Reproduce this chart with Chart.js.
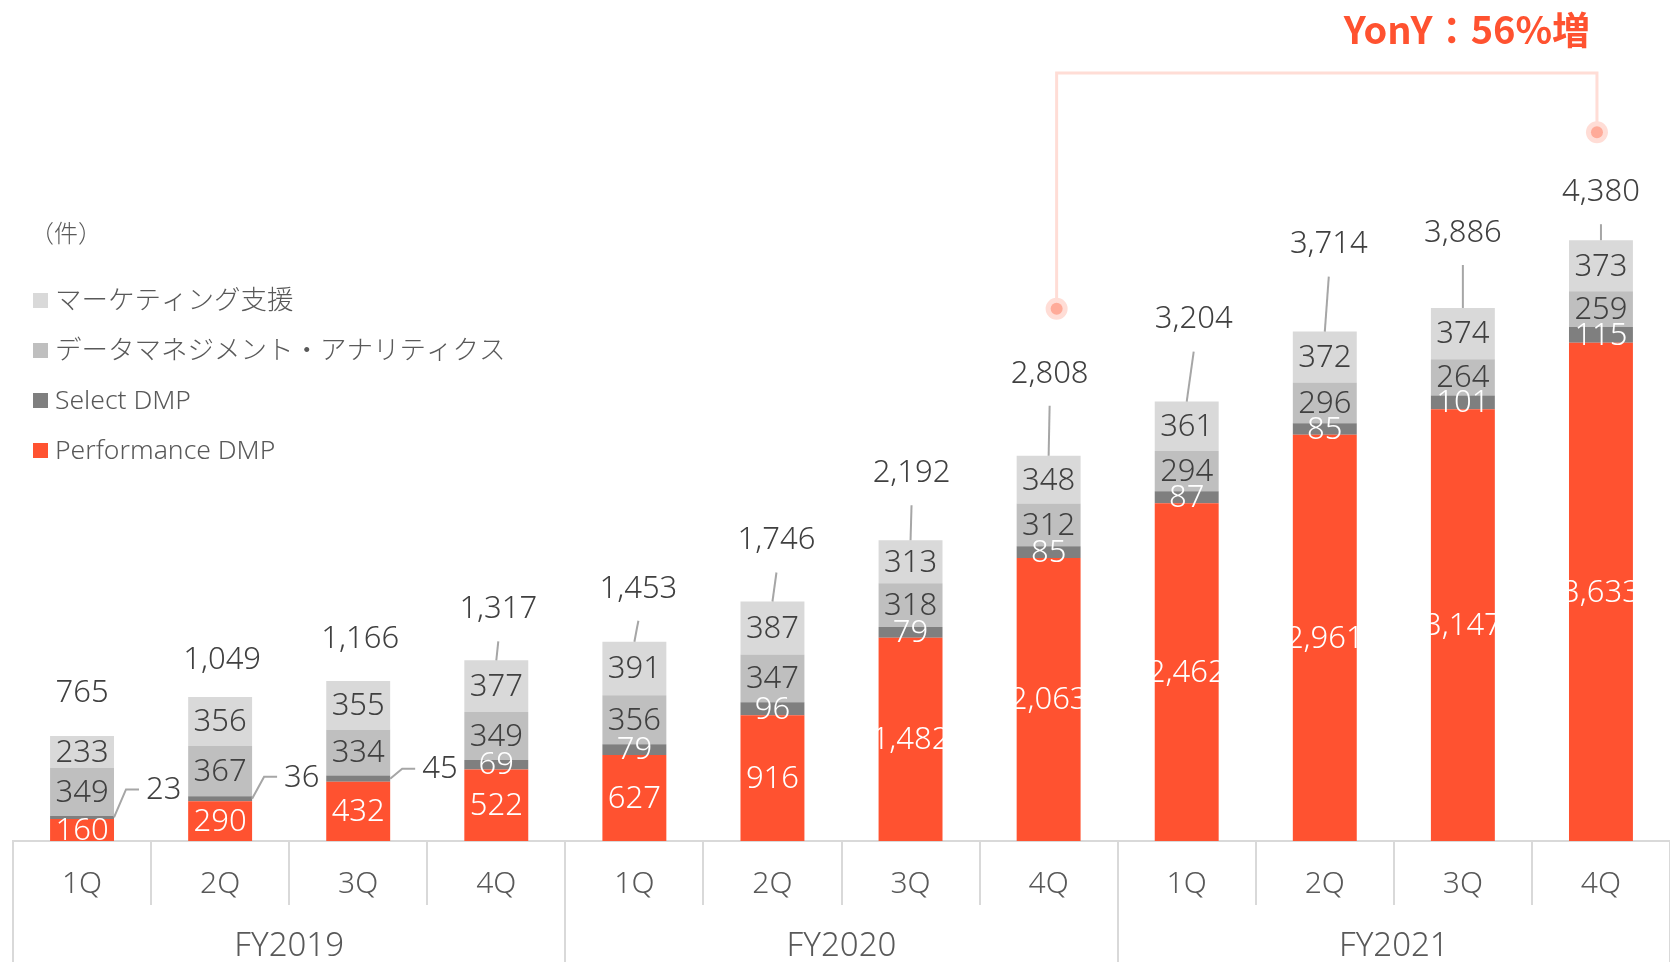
<!DOCTYPE html>
<html lang="ja">
<head>
<meta charset="utf-8">
<title>DMP 件数推移</title>
<script src="https://cdn.jsdelivr.net/npm/chart.js@4.4.1/dist/chart.umd.min.js"></script>
<style>
  html, body { margin: 0; padding: 0; background: #fff; overflow: hidden; }
  #wrap { width: 1670px; height: 962px; position: relative; }
</style>
</head>
<body>
<div id="wrap"><canvas id="chart"></canvas></div>
<script>
// ── data (件) ──
const quarters = ['1Q', '2Q', '3Q', '4Q', '1Q', '2Q', '3Q', '4Q', '1Q', '2Q', '3Q', '4Q'];
const fiscalYears = ['FY2019', 'FY2020', 'FY2021'];
const performanceDmp = [160, 290, 432, 522, 627, 916, 1482, 2063, 2462, 2961, 3147, 3633];
const selectDmp = [23, 36, 45, 69, 79, 96, 79, 85, 87, 85, 101, 115];
const dataManagement = [349, 367, 334, 349, 356, 347, 318, 312, 294, 296, 264, 259];
const marketingSupport = [233, 356, 355, 377, 391, 387, 313, 348, 361, 372, 374, 373];
const totals = [765, 1049, 1166, 1317, 1453, 1746, 2192, 2808, 3204, 3714, 3886, 4380];
const unitLabel = '（件）';
const yoyText = 'YonY：56%増';

// ── label placement (px, style only) ──
const totalLift = [43, 37, 42, 51, 53, 61, 67, 82, 82, 87, 75, 48];
const totalShift = [0, 2, 2, 2, 4, 4, 1, 1, 7, 4, 0, 0];
const calloutRise = [28, 22, 10];   // small Select DMP values pulled outside

const FONT = "'Noto Sans', 'Noto Sans CJK JP', sans-serif";
const TEXT = '#404040';
const AXIS_TEXT = '#595959';
const ORANGE = '#FF5230';
const LINE = '#D9D9D9';

const fmt = (v) => v.toLocaleString('en-US');

// values inside each stacked segment + totals on top
const valueLabels = {
  id: 'valueLabels',
  afterDatasetsDraw(chart) {
    const { ctx } = chart;
    ctx.save();
    ctx.font = `300 31px ${FONT}`;
    ctx.textBaseline = 'middle';
    chart.data.datasets.forEach((ds, di) => {
      chart.getDatasetMeta(di).data.forEach((bar, i) => {
        const v = ds.data[i];
        const cy = (bar.y + bar.base) / 2;
        if (di === 1 && i < calloutRise.length) {
          const x0 = bar.x + bar.width / 2;
          const y1 = cy - calloutRise[i];
          ctx.strokeStyle = '#A6A6A6';
          ctx.lineWidth = 2;
          ctx.beginPath();
          ctx.moveTo(x0, cy);
          ctx.lineTo(x0 + 12, y1);
          ctx.lineTo(x0 + 25, y1);
          ctx.stroke();
          ctx.fillStyle = TEXT;
          ctx.textAlign = 'left';
          ctx.fillText(fmt(v), x0 + 32, y1 + 1);
          return;
        }
        ctx.fillStyle = ds.labelColor;
        ctx.textAlign = 'center';
        ctx.fillText(fmt(v), bar.x, cy + 1);
      });
    });

    // totals
    const top = chart.getDatasetMeta(chart.data.datasets.length - 1).data;
    top.forEach((bar, i) => {
      const ly = bar.y - totalLift[i];
      const lx = bar.x + totalShift[i];
      if (totalLift[i] > 45) {
        ctx.strokeStyle = '#A6A6A6';
        ctx.lineWidth = 2;
        ctx.beginPath();
        ctx.moveTo(bar.x, bar.y);
        ctx.lineTo(lx, ly + 32);
        ctx.stroke();
      }
      ctx.fillStyle = TEXT;
      ctx.textAlign = 'center';
      ctx.fillText(fmt(totals[i]), lx, ly);
    });
    ctx.restore();
  },
};

// fiscal-year groups under the quarter axis
const yearAxis = {
  id: 'yearAxis',
  afterDraw(chart) {
    const { ctx } = chart;
    const xs = chart.scales.x;
    const cw = xs.width / quarters.length;
    ctx.save();
    ctx.strokeStyle = LINE;
    ctx.lineWidth = 2;
    for (let g = 0; g <= fiscalYears.length; g++) {
      const x = Math.round(xs.left + g * 4 * cw);
      ctx.beginPath();
      ctx.moveTo(x, xs.top);
      ctx.lineTo(x, chart.height);
      ctx.stroke();
    }
    ctx.fillStyle = AXIS_TEXT;
    ctx.font = `300 33px ${FONT}`;
    ctx.textAlign = 'center';
    ctx.textBaseline = 'middle';
    fiscalYears.forEach((fy, g) => {
      ctx.fillText(fy, xs.left + (g * 4 + 2) * cw, xs.top + 106);
    });
    ctx.restore();
  },
};

// legend block at top-left plus the unit
const cornerLegend = {
  id: 'cornerLegend',
  afterDraw(chart) {
    const { ctx } = chart;
    ctx.save();
    ctx.textBaseline = 'middle';
    ctx.textAlign = 'left';
    ctx.fillStyle = AXIS_TEXT;
    ctx.font = `300 24px ${FONT}`;
    ctx.fillText(unitLabel, 30, 235);
    ctx.font = `300 26.5px ${FONT}`;
    const items = [...chart.data.datasets].reverse();
    items.forEach((ds, k) => {
      const y = 300 + k * 50;
      ctx.fillStyle = ds.backgroundColor;
      ctx.fillRect(33, y - 7, 15, 15);
      ctx.fillStyle = AXIS_TEXT;
      ctx.fillText(ds.label, 55, y + 1);
    });
    ctx.restore();
  },
};

// year-on-year bracket between 4Q FY2020 and 4Q FY2021
const yoyBracket = {
  id: 'yoyBracket',
  afterDraw(chart) {
    const { ctx, chartArea } = chart;
    const top = chart.getDatasetMeta(chart.data.datasets.length - 1).data;
    const a = top[7], b = top[11];
    const ax = a.x + 8, ay = a.y - totalLift[7] - 65;
    const bx = b.x - 4, by = b.y - totalLift[11] - 60;
    const ty = chartArea.top + 55;
    ctx.save();
    ctx.strokeStyle = '#FFDDD6';
    ctx.lineWidth = 3;
    ctx.beginPath();
    ctx.moveTo(ax, ay);
    ctx.lineTo(ax, ty);
    ctx.lineTo(bx, ty);
    ctx.lineTo(bx, by);
    ctx.stroke();
    [[ax, ay], [bx, by]].forEach(([x, y]) => {
      ctx.fillStyle = '#FFDDD6';
      ctx.beginPath(); ctx.arc(x, y, 11, 0, Math.PI * 2); ctx.fill();
      ctx.fillStyle = '#FFAB99';
      ctx.beginPath(); ctx.arc(x, y, 6, 0, Math.PI * 2); ctx.fill();
    });
    ctx.fillStyle = ORANGE;
    ctx.font = `bold 38px 'Noto Sans CJK JP', sans-serif`;
    ctx.textAlign = 'center';
    ctx.textBaseline = 'middle';
    ctx.fillText(yoyText, top[10].x + 4, 30);
    ctx.restore();
  },
};

const mk = (label, data, color, labelColor) => ({
  label, data, labelColor,
  backgroundColor: color,
  borderWidth: 0,
  barPercentage: 0.463,
  categoryPercentage: 1,
});

new Chart(document.getElementById('chart'), {
  type: 'bar',
  data: {
    labels: quarters,
    datasets: [
      mk('Performance DMP', performanceDmp, ORANGE, '#FFFFFF'),
      mk('Select DMP', selectDmp, '#7F7F7F', '#FFFFFF'),
      mk('データマネジメント・アナリティクス', dataManagement, '#BFBFBF', TEXT),
      mk('マーケティング支援', marketingSupport, '#D9D9D9', TEXT),
    ],
  },
  options: {
    responsive: true,
    maintainAspectRatio: false,
    animation: false,
    events: [],
    layout: { padding: { top: 18, left: 13, right: 0, bottom: 0 } },
    plugins: { legend: { display: false }, tooltip: { enabled: false } },
    scales: {
      x: {
        stacked: true,
        afterFit: (s) => { s.height = 121; },
        border: { display: true, color: LINE, width: 2 },
        grid: { drawOnChartArea: false, color: LINE, lineWidth: 2, tickLength: 64 },
        ticks: { color: AXIS_TEXT, font: { family: FONT, size: 30, weight: '300' }, padding: -39, maxRotation: 0, autoSkip: false },
      },
      y: { stacked: true, display: false, min: 0, max: 6000 },
    },
  },
  plugins: [valueLabels, yearAxis, cornerLegend, yoyBracket],
});
</script>
</body>
</html>
